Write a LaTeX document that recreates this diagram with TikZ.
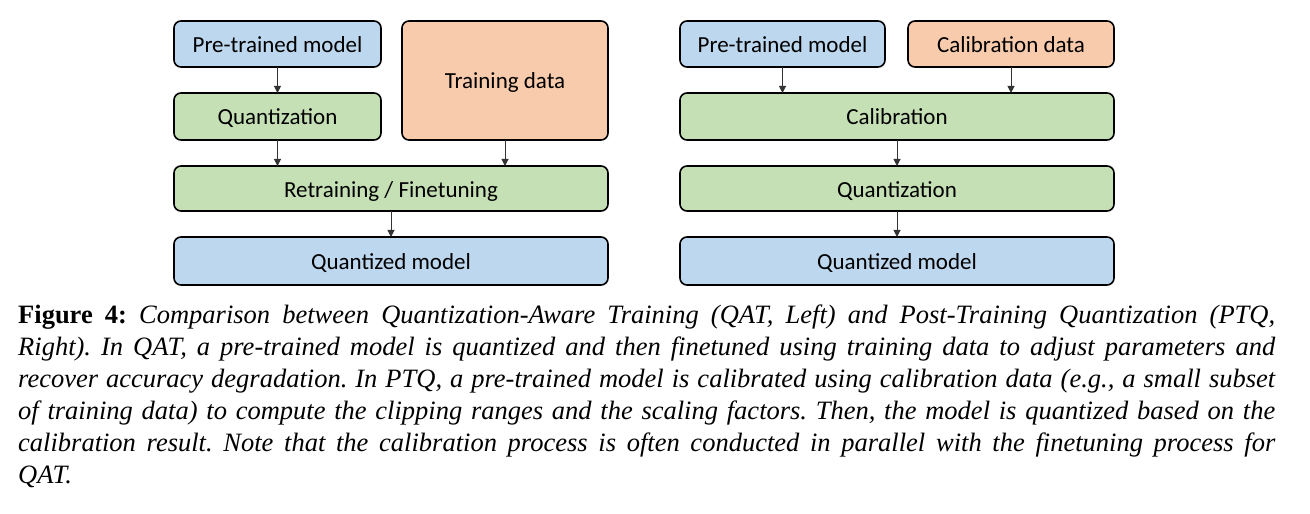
\documentclass[tikz,border=0pt]{standalone}
\usepackage{fontspec}
\setmainfont{Liberation Serif}
\newfontfamily\boxfont{Carlito}
\usetikzlibrary{arrows.meta}
\definecolor{bluebox}{HTML}{BDD7EE}
\definecolor{greenbox}{HTML}{C5E0B4}
\definecolor{orangebox}{HTML}{F8CBAD}
\frenchspacing
\tikzset{
  blk/.style={draw=black, line width=1.6bp, rounded corners=7bp, inner sep=0pt, outer sep=0pt,
    anchor=north west, font=\boxfont\fontsize{23bp}{26bp}\selectfont, text=black,
    text height=18bp, text depth=1bp},
  arr/.style={line width=1bp, draw=black!80, -{Triangle[length=7bp,width=7bp]}},
  capline/.style={anchor=base west, inner sep=0pt, font=\fontsize{26.5bp}{32bp}\selectfont}
}
\begin{document}
\begin{tikzpicture}[x=1bp,y=-1bp]
\useasboundingbox (0,0) rectangle (1310,514);
% left
\node[blk, fill=bluebox, minimum width=207bp, minimum height=46bp] (lpre) at (174,21) {Pre-trained model};
\node[blk, fill=greenbox, minimum width=207bp, minimum height=47bp] (lquant) at (174,93) {Quantization};
\node[blk, fill=orangebox, minimum width=206bp, minimum height=119bp] (ltrain) at (402,21) {Training data};
\node[blk, fill=greenbox, minimum width=434bp, minimum height=45bp] (lret) at (174,166) {Retraining / Finetuning};
\node[blk, fill=bluebox, minimum width=434bp, minimum height=48bp] (lqm) at (174,237) {Quantized model};
\draw[arr] (lpre) -- (lquant);
\draw[arr] (lquant.south) -- (lquant.south |- lret.north);
\draw[arr] (ltrain.south) -- (ltrain.south |- lret.north);
\draw[arr] (lret) -- (lqm);
% right
\node[blk, fill=bluebox, minimum width=205bp, minimum height=46bp] (rpre) at (680,21) {Pre-trained model};
\node[blk, fill=orangebox, minimum width=206bp, minimum height=46bp] (rcal) at (908,21) {Calibration data};
\node[blk, fill=greenbox, minimum width=434bp, minimum height=47bp] (rcalib) at (680,93) {Calibration};
\node[blk, fill=greenbox, minimum width=434bp, minimum height=45bp] (rquant) at (680,166) {Quantization};
\node[blk, fill=bluebox, minimum width=434bp, minimum height=48bp] (rqm) at (680,237) {Quantized model};
\draw[arr] (rpre.south) -- (rpre.south |- rcalib.north);
\draw[arr] (rcal.south) -- (rcal.south |- rcalib.north);
\draw[arr] (rcalib) -- (rquant);
\draw[arr] (rquant) -- (rqm);
% caption
\node[capline] (cap1) at (18,323) {\makebox[1257bp][s]{\textbf{Figure 4:} \itshape Comparison between Quantization-Aware Training (QAT, Left) and Post-Training Quantization (PTQ,}};
\node[capline] (cap2) at (18,355) {\makebox[1257bp][s]{\itshape Right). In QAT, a pre-trained model is quantized and then finetuned using training data to adjust parameters and}};
\node[capline] (cap3) at (18,387) {\makebox[1257bp][s]{\itshape recover accuracy degradation. In PTQ, a pre-trained model is calibrated using calibration data (e.g., a small subset}};
\node[capline] (cap4) at (18,419) {\makebox[1257bp][s]{\itshape of training data) to compute the clipping ranges and the scaling factors. Then, the model is quantized based on the}};
\node[capline] (cap5) at (18,451) {\makebox[1257bp][s]{\itshape calibration result. Note that the calibration process is often conducted in parallel with the finetuning process for}};
\node[capline] (cap6) at (18,483) {\itshape QAT.};
\end{tikzpicture}
\end{document}
